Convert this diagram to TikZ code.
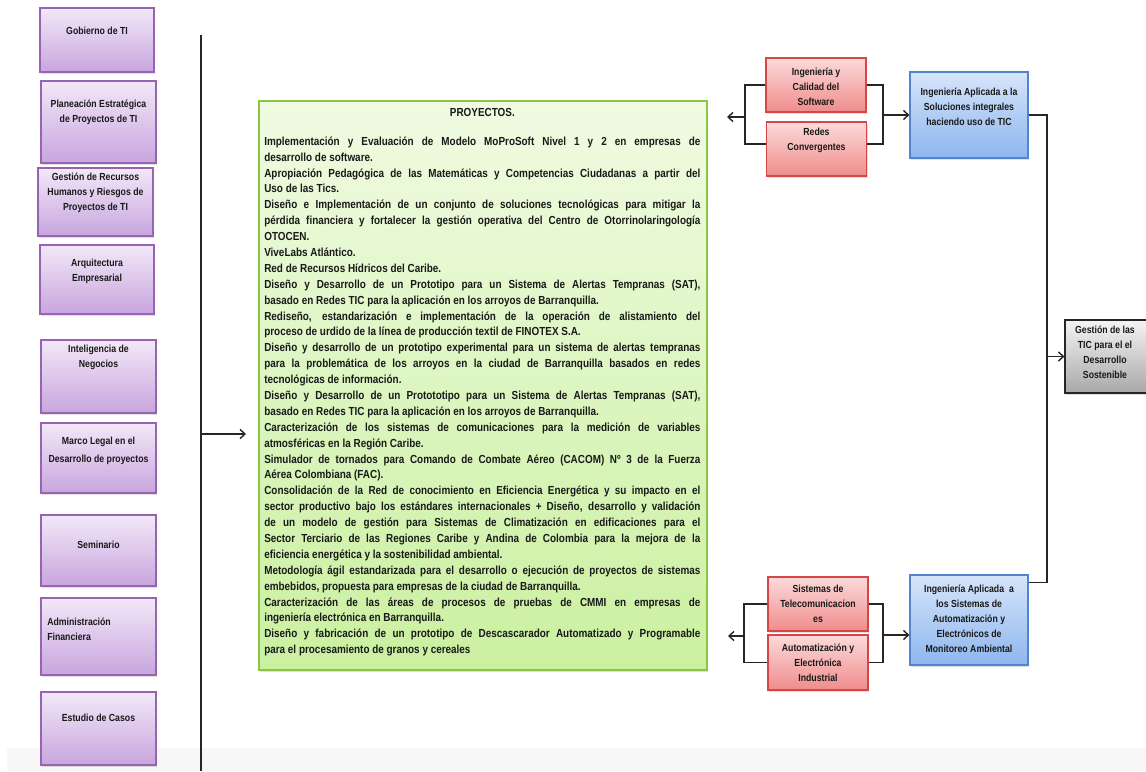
\documentclass[tikz,border=0pt]{standalone}
\usepackage{fontspec}
\setmainfont{Liberation Sans}[FakeStretch=0.85]
\usetikzlibrary{arrows.meta,calc,shadows}

\definecolor{texto}{RGB}{25,25,25}
\definecolor{lilaborde}{RGB}{150,100,178}
\definecolor{lilaarriba}{RGB}{242,232,248}
\definecolor{lilaabajo}{RGB}{200,165,222}
\definecolor{rojoborde}{RGB}{214,70,70}
\definecolor{rojoarriba}{RGB}{252,218,218}
\definecolor{rojoabajo}{RGB}{240,140,140}
\definecolor{azulborde}{RGB}{80,134,208}
\definecolor{azularriba}{RGB}{214,229,250}
\definecolor{azulabajo}{RGB}{142,182,238}
\definecolor{verdeborde}{RGB}{140,196,70}
\definecolor{verdearriba}{RGB}{240,251,226}
\definecolor{verdeabajo}{RGB}{202,240,160}
\definecolor{grisarriba}{RGB}{244,244,244}
\definecolor{grisabajo}{RGB}{168,168,168}

\tikzset{
  caja/.style={line width=0.8pt, drop shadow={opacity=0.25,shadow xshift=1pt,shadow yshift=-1.2pt}},
  lila/.style={caja, draw=lilaborde, top color=lilaarriba, bottom color=lilaabajo, minimum width=2.875cm},
  rojo/.style={caja, draw=rojoborde, top color=rojoarriba, bottom color=rojoabajo, minimum width=2.5cm},
  azul/.style={caja, draw=azulborde, top color=azularriba, bottom color=azulabajo, minimum width=2.95cm},
  gris/.style={caja, draw=black!85, top color=grisarriba, bottom color=grisabajo, minimum width=2.05cm},
  etiq/.style={font=\fontsize{7.3}{10.7}\selectfont\bfseries, align=center, inner sep=0pt, text=texto},
  linea/.style={line width=1pt, draw=black!85},
  flecha/.style={linea, -{Straight Barb[length=3.5pt,width=6.5pt]}}
}

\begin{document}
\begin{tikzpicture}[x=0.025cm, y=-0.025cm]
	\useasboundingbox (0,0) rectangle (1146,771);
	\fill[black!3] (7,748) rectangle (1146,771);

	% columna de la izquierda
	\node[lila, minimum width=2.85cm, minimum height=1.6cm] (gob) at (97,40) {};
	\node[etiq] (gobt) at (97,31) {Gobierno de TI};
	\node[lila, minimum height=2.05cm] (plan) at (98.5,122) {};
	\node[etiq] (plant) at (98.5,112) {Planeación Estratégica\\de Proyectos de TI};
	\node[lila, minimum height=1.7cm] (gest) at (95.5,202) {};
	\node[etiq] (gestt) at (95.5,193) {Gestión de Recursos\\Humanos y Riesgos de\\Proyectos de TI};
	\node[lila, minimum width=2.85cm, minimum height=1.725cm] (arq) at (97,279.5) {};
	\node[etiq] (arqt) at (97,271) {Arquitectura\\Empresarial};
	\node[lila, minimum height=1.825cm] (intel) at (98.5,376.5) {};
	\node[etiq] (intelt) at (98.5,357) {Inteligencia de\\Negocios};
	\node[lila, minimum height=1.75cm] (marco) at (98.5,458) {};
	\node[etiq, font=\fontsize{7.3}{12.5}\selectfont\bfseries] (marcot) at (98.5,451) {Marco Legal en el\\Desarrollo de proyectos};
	\node[lila, minimum height=1.775cm] (semi) at (98.5,550.5) {};
	\node[etiq] (semit) at (98.5,545) {Seminario};
	\node[lila, minimum height=1.925cm] (admin) at (98.5,636.5) {};
	\node[etiq, align=left, anchor=west] (admint) at (47,629) {Administración\\Financiera};
	\node[lila, minimum height=1.825cm] (est) at (98.5,728.5) {};
	\node[etiq] (estt) at (98.5,718) {Estudio de Casos};

	\coordinate (vsup) at (201,35);
	\coordinate (vinf) at (201,771);
	\coordinate (vmed) at (201,434);
	\coordinate (vfin) at (246,434);
	\draw[linea, line width=1.2pt] (vsup) -- (vinf);
	\draw[flecha] (vmed) -- (vfin);

	% proyectos
	\node[caja, draw=verdeborde, line width=1.2pt, top color=verdearriba, bottom color=verdeabajo,
	      minimum width=11.2cm, minimum height=14.225cm] (proy) at (483,385.5) {};
	\node[anchor=north west, text width=10.9cm, inner sep=0pt, align=justify, text=texto,
	      font=\fontsize{8.3}{11.3}\selectfont\bfseries] (proyt) at (264,108) {%
		\parindent=0pt \tolerance=10000 \hyphenpenalty=10000
		\makebox[\linewidth]{PROYECTOS.}\par\vspace{9.2pt}
		Implementación y Evaluación de Modelo MoProSoft Nivel 1 y 2 en empresas de \linebreak desarrollo de software.\par
		Apropiación Pedagógica de las Matemáticas y Competencias Ciudadanas a partir del \linebreak Uso de las Tics.\par
		Diseño e Implementación de un conjunto de soluciones tecnológicas para mitigar la \linebreak pérdida financiera y fortalecer la gestión operativa del Centro de Otorrinolaringología \linebreak OTOCEN.\par
		ViveLabs Atlántico.\par
		Red de Recursos Hídricos del Caribe.\par
		Diseño y Desarrollo de un Prototipo para un Sistema de Alertas Tempranas (SAT), \linebreak basado en Redes TIC para la aplicación en los arroyos de Barranquilla.\par
		Rediseño, estandarización e implementación de la operación de alistamiento del \linebreak proceso de urdido de la línea de producción textil de FINOTEX S.A.\par
		Diseño y desarrollo de un prototipo experimental para un sistema de alertas tempranas \linebreak para la problemática de los arroyos en la ciudad de Barranquilla basados en redes \linebreak tecnológicas de información.\par
		Diseño y Desarrollo de un Protototipo para un Sistema de Alertas Tempranas (SAT), \linebreak basado en Redes TIC para la aplicación en los arroyos de Barranquilla.\par
		Caracterización de los sistemas de comunicaciones para la medición de variables \linebreak atmosféricas en la Región Caribe.\par
		Simulador de tornados para Comando de Combate Aéreo (CACOM) Nº 3 de la Fuerza \linebreak Aérea Colombiana (FAC).\par
		Consolidación de la Red de conocimiento en Eficiencia Energética y su impacto en el \linebreak sector productivo bajo los estándares internacionales + Diseño, desarrollo y validación \linebreak de un modelo de gestión para Sistemas de Climatización en edificaciones para el \linebreak Sector Terciario de las Regiones Caribe y Andina de Colombia para la mejora de la \linebreak eficiencia energética y la sostenibilidad ambiental.\par
		Metodología ágil estandarizada para el desarrollo o ejecución de proyectos de sistemas \linebreak embebidos, propuesta para empresas de la ciudad de Barranquilla.\par
		Caracterización de las áreas de procesos de pruebas de CMMI en empresas de \linebreak ingeniería electrónica en Barranquilla.\par
		Diseño y fabricación de un prototipo de Descascarador Automatizado y Programable \linebreak para el procesamiento de granos y cereales};

	% grupo de arriba
	\node[rojo, minimum height=1.35cm] (r1) at (816,85) {};
	\node[etiq] (r1t) at (816,86.5) {Ingeniería y\\Calidad del\\Software};
	\node[rojo, minimum height=1.35cm] (r2) at (816.5,149) {};
	\node[etiq] (r2t) at (816.5,140) {Redes\\Convergentes};
	\node[azul, minimum height=2.15cm] (b1) at (969,115) {};
	\node[etiq] (b1t) at (969,107) {Ingeniería Aplicada a la\\Soluciones integrales\\haciendo uso de TIC};

	\coordinate (ia) at (745,117);
	\coordinate (iafin) at (727,117);
	\coordinate (da) at (883,115);
	\draw[linea] (r1.west) -| (ia) |- ($(r2.west)+(0,-5)$);
	\draw[flecha] (ia) -- (iafin);
	\draw[linea] (r1.east) -| (da) |- ($(r2.east)+(0,-5)$);
	\draw[flecha] (da) -- (b1.west);

	% grupo de abajo
	\node[rojo, minimum height=1.35cm] (r3) at (818,604) {};
	\node[etiq] (r3t) at (818,604) {Sistemas de\\Telecomunicacion\\es};
	\node[rojo, minimum height=1.375cm] (r4) at (818,662.5) {};
	\node[etiq] (r4t) at (818,662.5) {Automatización y\\Electrónica\\Industrial};
	\node[azul, minimum height=2.25cm] (b2) at (969,620) {};
	\node[etiq] (b2t) at (969,618.5) {Ingeniería Aplicada\ \ a\\los Sistemas de\\Automatización y\\Electrónicos de\\Monitoreo Ambiental};

	\coordinate (ib) at (744,636);
	\coordinate (ibfin) at (728,636);
	\coordinate (db) at (883,635);
	\draw[linea] (r3.west) -| (ib) |- (r4.west);
	\draw[flecha] (ib) -- (ibfin);
	\draw[linea] (r3.east) -| (db) |- (r4.east);
	\draw[flecha] (db) -- (db -| b2.west);

	% gestion de las TIC
	\node[gris, minimum height=1.825cm] (gr) at (1106,356.5) {};
	\node[etiq] (grt) at (1105,352) {Gestión de las\\TIC para el el\\Desarrollo\\Sostenible};

	\coordinate (dg) at (1047,356.5);
	\draw[linea] (b1.east) -| (dg) |- ($(b2.north east)+(0,8)$);
	\draw[flecha] (dg) -- (gr.west);
\end{tikzpicture}
\end{document}
